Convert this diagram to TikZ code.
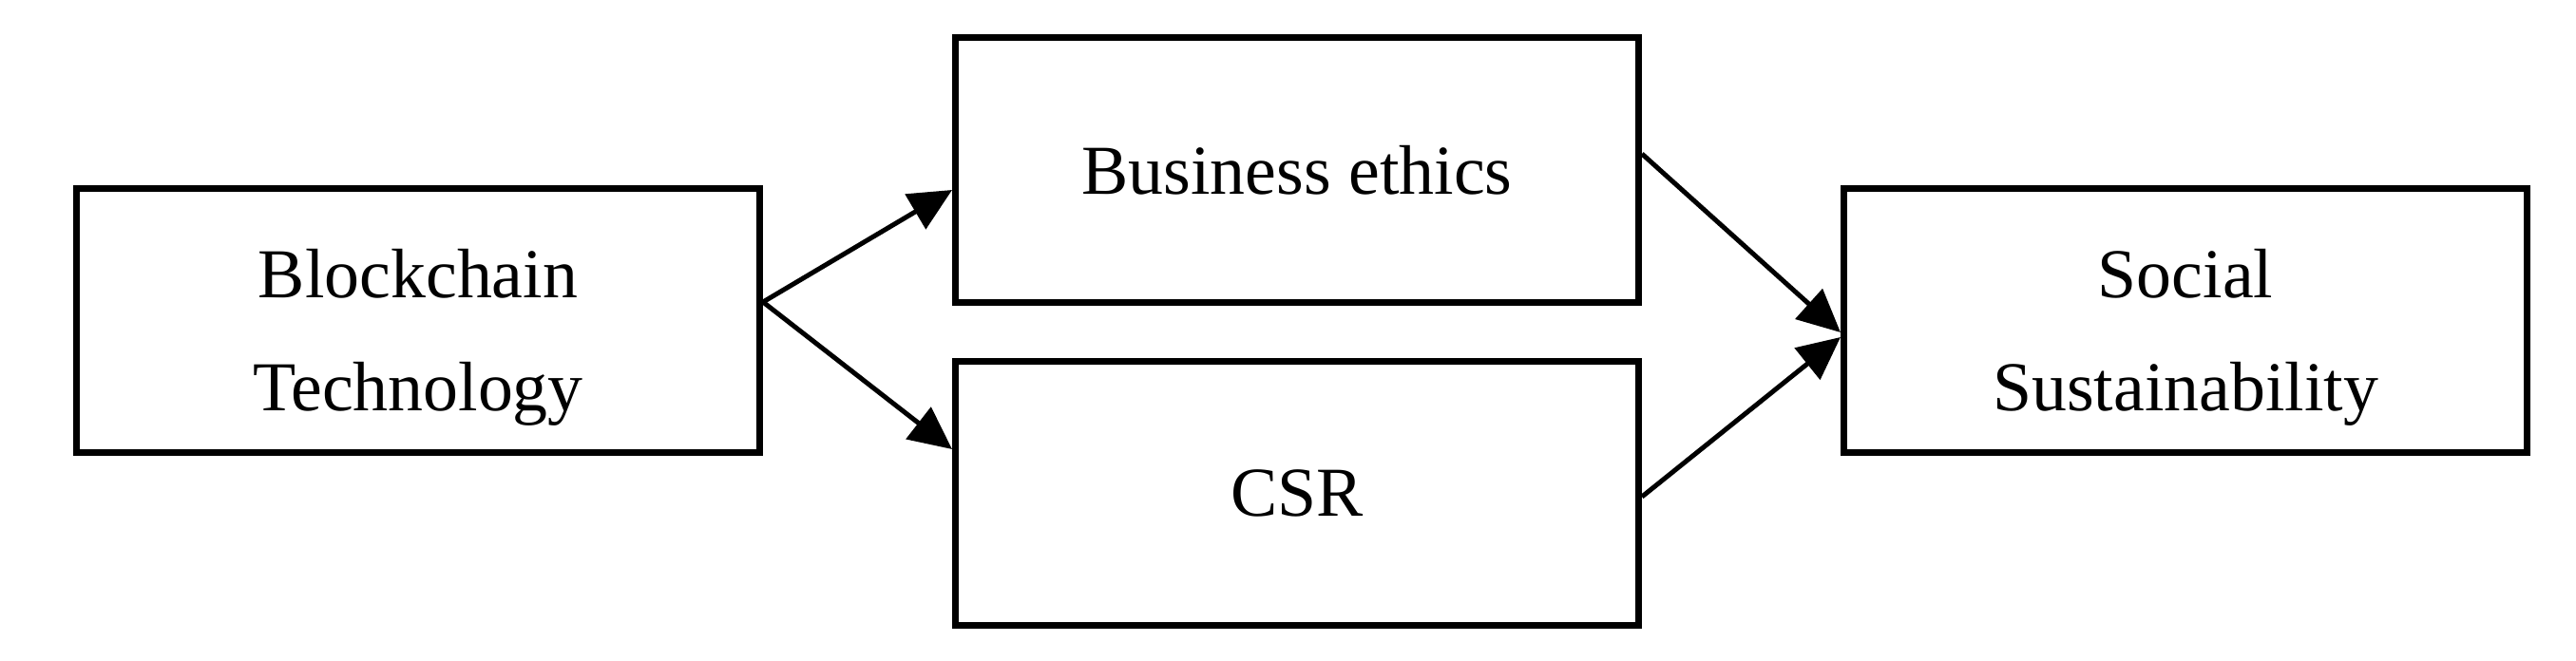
\documentclass[tikz,border=0pt]{standalone}
\usepackage{fontspec}
\setmainfont{Liberation Serif}
\usepackage{tikz}
\usetikzlibrary{arrows.meta}

\tikzset{
    block/.style={draw, line width=0.07cm, minimum width=7.19cm, minimum height=2.78cm,
        align=center, font=\fontsize{21}{33.8}\selectfont},
    twoline/.style={text height=1.96cm, text depth=0.07cm},
    link/.style={line width=0.05cm, -{Triangle[length=0.45cm, width=0.42cm]}}
}

\begin{document}
\begin{tikzpicture}
        \useasboundingbox (0,0) rectangle (27.11,6.95);
        \node[block, twoline] (blockchain) at (4.40,3.575) {Blockchain\\Technology};
        \node[block] (ethics) at (13.65,5.16) {Business ethics};
        \node[block] (csr) at (13.65,1.755) {CSR};
        \node[block, twoline] (social) at (23.00,3.575) {Social\\Sustainability};
        \draw[link] ([yshift=0.195cm]blockchain.east) -- ([yshift=-0.21cm]ethics.west);
        \draw[link] ([yshift=0.195cm]blockchain.east) -- ([yshift=0.465cm]csr.west);
        \draw[link] ([yshift=0.17cm]ethics.east) -- ([yshift=-0.125cm]social.west);
        \draw[link] ([yshift=-0.035cm]csr.east) -- ([yshift=-0.175cm]social.west);
    \end{tikzpicture}
\end{document}
